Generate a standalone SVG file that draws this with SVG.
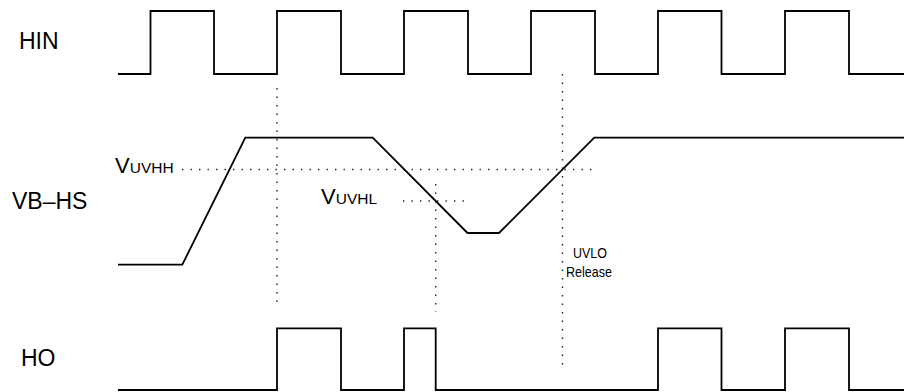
<svg xmlns="http://www.w3.org/2000/svg" width="904" height="392" viewBox="0 0 904 392">
<style>
.sig{fill:none;stroke:#000;stroke-width:1.8;stroke-linejoin:miter}
.dot{fill:none;stroke:#222;stroke-width:1.4;stroke-dasharray:1.4 7.1}
.lbl{font-family:"Liberation Sans",Arial,sans-serif;fill:#000}
</style>
<rect width="904" height="392" fill="#fff"/>
<g id="labels" class="lbl">
<text x="19" y="49" font-size="23">HIN</text>
<text x="12" y="209" font-size="23">VB–HS</text>
<text x="21" y="366" font-size="23">HO</text>
<text x="115" y="173" font-size="22">V<tspan font-size="15.5">UVHH</tspan></text>
<text x="321" y="204" font-size="22">V<tspan font-size="15.5">UVHL</tspan></text>
<text x="573" y="258" font-size="15" textLength="34" lengthAdjust="spacingAndGlyphs">UVLO</text>
<text x="566" y="277" font-size="15" textLength="46" lengthAdjust="spacingAndGlyphs">Release</text>
</g>
<g id="connectors">
<line class="dot" x1="277" y1="88" x2="277" y2="308"/>
<line class="dot" x1="562.5" y1="74" x2="562.5" y2="366"/>
<line class="dot" x1="435.7" y1="184" x2="435.7" y2="312"/>
<line class="dot" x1="182" y1="169.5" x2="592" y2="169.5"/>
<line class="dot" x1="403" y1="201" x2="464" y2="201"/>
</g>
<g id="HIN">
<polyline class="sig" points="118,74 150.5,74 150.5,11 214,11 214,74 277,74 277,11 341,11 341,74 404,74 404,11 468,11 468,74 531,74 531,11 595,11 595,74 658,74 658,11 721.5,11 721.5,74 785,74 785,11 849,11 849,74 904,74"/>
</g>
<g id="VB-HS">
<polyline class="sig" points="118,264.7 182.3,264.7 245.3,137.7 372.7,137.7 467.5,233 499,233 594.3,137.7 904,137.7"/>
</g>
<g id="HO">
<polyline class="sig" points="118,390 277,390 277,328.3 341,328.3 341,390 404,390 404,328.3 435.7,328.3 435.7,390 658,390 658,328.3 721.5,328.3 721.5,390 785,390 785,328.3 849,328.3 849,390 904,390"/>
</g>
</svg>
